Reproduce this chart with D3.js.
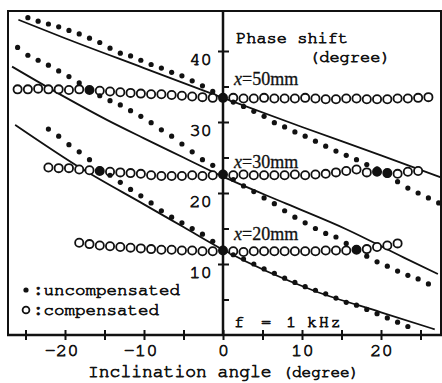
<!DOCTYPE html>
<html>
<head>
<meta charset="UTF-8">
<script src="https://cdnjs.cloudflare.com/ajax/libs/d3/7.8.5/d3.min.js"></script>
<style>
  body { margin: 0; background: #fff; }
  svg { display: block; }
  text { font-family: "Nimbus Mono PS", "Courier 10 Pitch", "FreeMono", "Liberation Mono", monospace; fill: #111; stroke: #111; stroke-width: 0.75px; }
  .serif { font-family: "Liberation Serif", "Times New Roman", serif; stroke-width: 0.3px; }
</style>
</head>
<body>
<div id="chart"></div>
<script>
// measurement angles (degree), shared by all measured series
const angles = [-26.0, -24.7, -23.4, -22.1, -20.8, -19.5, -18.2, -16.9, -15.6, -14.3,
  -13.0, -11.7, -10.4, -9.1, -7.8, -6.5, -5.2, -3.9, -2.6, -1.3,
  0, 1.3, 2.6, 3.9, 5.2, 6.5, 7.8, 9.1, 10.4, 11.7,
  13.0, 14.3, 15.6, 16.9, 18.2, 19.5, 20.8, 22.1, 23.4, 24.7,
  26.0, 27.3];

// x = 50mm
const comp50 = [34.6, 34.6, 34.7, 34.6, 34.6, 34.5, 34.6, 34.5, 34.4, 34.3,
  34.2, 34.1, 34.0, 33.9, 33.9, 33.8, 33.7, 33.6, 33.5, 33.4,
  33.4, 33.4, 33.3, 33.3, 33.4, 33.3, 33.3, 33.3, 33.4, 33.3,
  33.2, 33.2, 33.3, 33.3, 33.2, 33.2, 33.2, 33.3, 33.3, 33.4,
  33.5, null];
const uncomp50 = [null, 44.7, 44.2, 43.8, 43.4, 42.9, 42.4, 41.8, 41.2, 40.4,
  39.7, 39.3, 38.7, 38.1, 37.6, 37.0, 36.5, 35.8, 35.1, 34.3,
  33.4, 32.8, 32.2, 31.5, 30.8, 29.9, 29.3, 28.6, 28.0, 27.3,
  26.6, 25.9, 25.3, 24.7, 24.0, 23.4, 22.5, 21.6, 20.7, 20.0,
  19.3, 18.6];

// x = 30mm
const comp30 = [null, null, null, 23.6, 23.5, 23.5, 23.3, 23.2, 23.1, 23.0,
  22.9, 22.8, 22.7, 22.5, 22.4, 22.4, 22.4, 22.5, 22.4, 22.5,
  22.6, 22.5, 22.6, 22.5, 22.5, 22.5, 22.5, 22.6, 22.5, 22.6,
  22.7, 22.9, 23.1, 23.3, 22.9, 23.0, 22.8, 22.7, 23.0, 23.1,
  null, null];
const uncomp30 = [40.5, 39.4, 38.7, 38.0, 37.2, 36.4, 35.5, 34.5, 33.7, 33.0,
  32.4, 31.6, 30.8, 29.9, 28.9, 28.0, 26.9, 25.8, 24.7, 23.9,
  22.6, 21.9, 21.0, 20.2, 19.3, 18.5, 17.5, 16.6, 15.8, 15.0,
  14.3, 13.8, 12.9, 12.0, 11.1, 10.3, 9.7, 9.0, 8.4, 7.9,
  7.2, null];

// x = 20mm
const comp20 = [null, null, null, null, null, null, 13.0, 12.8, 12.6, 12.5,
  12.4, 12.3, 12.2, 12.1, 12.0, 12.0, 11.9, 11.9, 11.8, 11.8,
  11.9, 11.8, 11.7, 11.8, 11.8, 11.8, 11.8, 11.8, 11.8, 11.8,
  11.9, 11.9, 11.9, 12.0, 12.1, 12.4, 12.6, 12.9, null, null,
  null, null];
const uncomp20 = [null, null, null, 29.0, 28.0, 26.8, 25.8, 24.7, 23.4, 22.5,
  21.5, 20.5, 19.6, 18.6, 17.5, 16.6, 15.8, 15.0, 14.2, 13.2,
  11.9, 11.3, 10.7, 10.0, 9.3, 8.7, 8.0, 7.4, 6.8, 6.3,
  5.8, 5.2, 4.6, 4.2, 3.6, 3.0, 2.4, 1.8, 1.2, null,
  null, null];

// theoretical curves
const th50Ang = [-25.9, -20, -10, 0, 10, 20, 27.6];
const th50Val = [44.4, 41.8, 37.6, 33.4, 29.3, 25.3, 22.2];
const th30Ang = [-26.7, -20, -14.7, -10, -5, 0, 8, 15.6, 22.9, 27.2];
const th30Val = [37.8, 33.5, 30.3, 27.7, 25.0, 22.3, 18.5, 14.9, 10.9, 8.6];
const th20Ang = [-26.3, -17.7, -10, -5, 0, 11.6, 20, 26.8];
const th20Val = [29.6, 23.3, 18.4, 15.2, 12.0, 6.2, 3.2, 0.8];

const xTicks = [-25, -20, -15, -10, -5, 0, 5, 10, 15, 20, 25];
const yTicks = [5, 10, 15, 20, 25, 30, 35, 40];
const curveLabels = ['50mm', '30mm', '20mm'];

const W = 442, H = 383;
const svg = d3.select('#chart').append('svg').attr('width', W).attr('height', H);

const x = d3.scaleLinear().domain([-25, 25]).range([25.5, 420.5]);
const y = d3.scaleLinear().domain([0, 40]).range([335, 51]);

const ink = '#111';

// frame
svg.append('path')
  .attr('d', `M8,335 L8,11 L441,11 L441,335`)
  .attr('fill', 'none').attr('stroke', ink).attr('stroke-width', 2);

// x axis
const xAxis = svg.append('g')
  .attr('transform', `translate(0,${y(0)})`)
  .call(d3.axisBottom(x).tickValues(xTicks).tickSize(5).tickPadding(3)
    .tickFormat(d => d % 10 === 0 ? d : ''));
xAxis.select('.domain').attr('d', 'M7,0H442').attr('stroke', ink).attr('stroke-width', 2.5);
xAxis.selectAll('.tick line').attr('y1', -5).attr('y2', 5).attr('stroke', ink).attr('stroke-width', 2);
xAxis.selectAll('.tick text').attr('font-size', 19).attr('fill', ink)
  .attr('dy', '0.71em')
  .attr('dx', d => d < 0 ? -4 : 0);

// y axis at zero angle
const yAxis = svg.append('g')
  .attr('transform', `translate(${x(0)},0)`)
  .call(d3.axisLeft(y).tickValues(yTicks).tickSize(5).tickPadding(6)
    .tickFormat(d => d % 10 === 0 ? d : ''));
yAxis.select('.domain').attr('d', `M0,${11}V${y(0)}`).attr('stroke', ink).attr('stroke-width', 2.5);
yAxis.selectAll('.tick line')
  .attr('x1', d => d % 10 === 0 ? -5 : 0).attr('x2', 6)
  .attr('stroke', ink).attr('stroke-width', 2);
yAxis.selectAll('.tick text').attr('font-size', 19).attr('fill', ink)
  .attr('dy', '0.72em');
svg.selectAll('g').attr('font-family', null);

// theory curves
const line = d3.line().x(d => x(d[0])).y(d => y(d[1])).curve(d3.curveMonotoneX);
[[th50Ang, th50Val], [th30Ang, th30Val], [th20Ang, th20Val]].forEach(([a, v]) => {
  svg.append('path')
    .datum(a.map((d, i) => [d, v[i]]))
    .attr('d', line)
    .attr('fill', 'none').attr('stroke', ink).attr('stroke-width', 1.8);
});

const pts = vals => angles.map((a, i) => [a, vals[i]]).filter(d => d[1] != null);
const uncompAll = [uncomp50, uncomp30, uncomp20].flatMap(pts);

// compensated: open circles (filled where an uncompensated dot overlaps)
[comp50, comp30, comp20].forEach(vals => {
  svg.append('g').selectAll('circle')
    .data(pts(vals))
    .join('circle')
    .attr('cx', d => x(d[0])).attr('cy', d => y(d[1])).attr('r', 4.1)
    .attr('fill', d => uncompAll.some(u => Math.hypot(x(u[0]) - x(d[0]), y(u[1]) - y(d[1])) < 3.5) ? ink : '#fff')
    .attr('stroke', ink).attr('stroke-width', 1.8);
});

// uncompensated: filled dots
[uncomp50, uncomp30, uncomp20].forEach(vals => {
  svg.append('g').selectAll('circle')
    .data(pts(vals))
    .join('circle')
    .attr('cx', d => x(d[0])).attr('cy', d => y(d[1])).attr('r', 2.6)
    .attr('fill', ink);
});

// annotations
svg.append('text').attr('x', 236).attr('y', 43).attr('font-size', 17).text('Phase shift');
svg.append('text').attr('x', 309).attr('y', 62).attr('font-size', 17).text('(degree)');

const labelY = [85, 168, 240];
curveLabels.forEach((lab, i) => {
  const t = svg.append('text').attr('class', 'serif').attr('x', 234).attr('y', labelY[i]).attr('font-size', 18);
  t.append('tspan').attr('font-style', 'italic').text('x');
  t.append('tspan').text('=');
  t.append('tspan').text(lab);
});

const f = svg.append('text').attr('y', 327).attr('font-size', 17);
f.append('tspan').attr('x', 234).text('f');
f.append('tspan').attr('x', 261).text('=');
f.append('tspan').attr('x', 286).text('1');
f.append('tspan').attr('x', 307).attr('letter-spacing', 1.5).text('kHz');

// legend
svg.append('circle').attr('cx', 26).attr('cy', 290).attr('r', 2.6).attr('fill', ink);
svg.append('text').attr('x', 33).attr('y', 295).attr('font-size', 17.5).text(':uncompensated');
svg.append('circle').attr('cx', 26).attr('cy', 310).attr('r', 3.4).attr('fill', '#fff')
  .attr('stroke', ink).attr('stroke-width', 1.8);
svg.append('text').attr('x', 33).attr('y', 315).attr('font-size', 17.5).text(':compensated');

// x title
const xt = svg.append('text').attr('x', 88).attr('y', 377);
xt.append('tspan').attr('font-size', 18).text('Inclination angle ');
xt.append('tspan').attr('font-size', 16).text('(degree)');
</script>
</body>
</html>
